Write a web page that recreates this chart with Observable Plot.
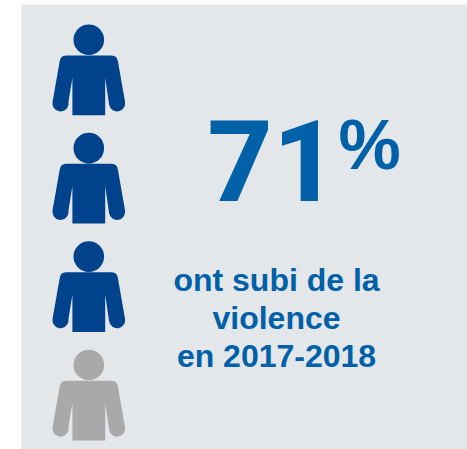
<!DOCTYPE html>
<html>
<head>
<meta charset="utf-8">
<style>html,body{margin:0;padding:0;background:#fff;}</style>
<script src="https://cdn.jsdelivr.net/npm/d3@7"></script>
<script src="https://cdn.jsdelivr.net/npm/@observablehq/plot@0.6"></script>
</head>
<body>
<div id="chart"></div>
<script>
const rows = [0, 1, 2, 3];
const status = ["violence", "violence", "violence", "none"];
const share = "71";
const unit = "%";
const captionLines = ["ont subi de la", "violence", "en 2017-2018"];

const people = rows.map((row, i) => ({row, status: status[i]}));

// Pictogram symbol, authored in px at r = 45 and scaled by the dot radius
const person = {
  draw(ctx, size) {
    const k = Math.sqrt(size / Math.PI) / 45;
    const P = v => v * k;
    const rad = d => d * Math.PI / 180;
    // head
    ctx.moveTo(P(15.3), P(-30.1));
    ctx.arc(P(0), P(-30.1), P(15.3), 0, 2 * Math.PI);
    ctx.closePath();
    // body and arms
    ctx.moveTo(P(-23), P(-14.4));
    ctx.lineTo(P(23), P(-14.4));
    ctx.quadraticCurveTo(P(28.3), P(-14.4), P(29.2), P(-8));
    ctx.lineTo(P(36.2), P(32));
    ctx.arc(P(28.3), P(33.5), P(8.1), rad(-10), rad(170));
    ctx.lineTo(P(16.4), P(8));
    ctx.lineTo(P(16.4), P(45.3));
    ctx.lineTo(P(-16.4), P(45.3));
    ctx.lineTo(P(-16.4), P(8));
    ctx.lineTo(P(-20.3), P(32));
    ctx.arc(P(-28.3), P(33.5), P(8.1), rad(10), rad(190));
    ctx.lineTo(P(-29.2), P(-8));
    ctx.quadraticCurveTo(P(-28.3), P(-14.4), P(-23), P(-14.4));
    ctx.closePath();
  }
};

const blue = "#0060a8";
const base = {frameAnchor: "top-left", fontFamily: "Liberation Sans, Arial, sans-serif", fontWeight: 700, fill: blue};

const chart = Plot.plot({
  width: 467,
  height: 449,
  marginLeft: 21,
  marginTop: 4,
  marginRight: 0,
  marginBottom: 0,
  style: {background: "#fff"},
  x: {axis: null, domain: [0, 1]},
  y: {axis: null, domain: [-0.603, 3.502], reverse: true},
  color: {domain: ["violence", "none"], range: ["#00428c", "#a9a9a9"]},
  marks: [
    Plot.frame({fill: "#e4e7ea", stroke: null}),
    Plot.dot(people, {x: () => 0.1509, y: "row", r: 45, symbol: person, fill: "status"}),
    Plot.text([share], {...base, fontFamily: "Roboto, Liberation Sans, sans-serif", fontWeight: 800, text: d => d, lineAnchor: "bottom", fontSize: 113, textAnchor: "start", dx: 186, dy: 196}),
    Plot.text([unit], {...base, text: d => d, lineAnchor: "bottom", fontSize: 70, textAnchor: "start", dx: 317, dy: 164}),
    Plot.text([captionLines.join("\n")], {...base, text: d => d, lineAnchor: "top", lineHeight: 1.19, fontSize: 32, textAnchor: "middle", dx: 255, dy: 259})
  ]
});
document.getElementById("chart").append(chart);
</script>
</body>
</html>
